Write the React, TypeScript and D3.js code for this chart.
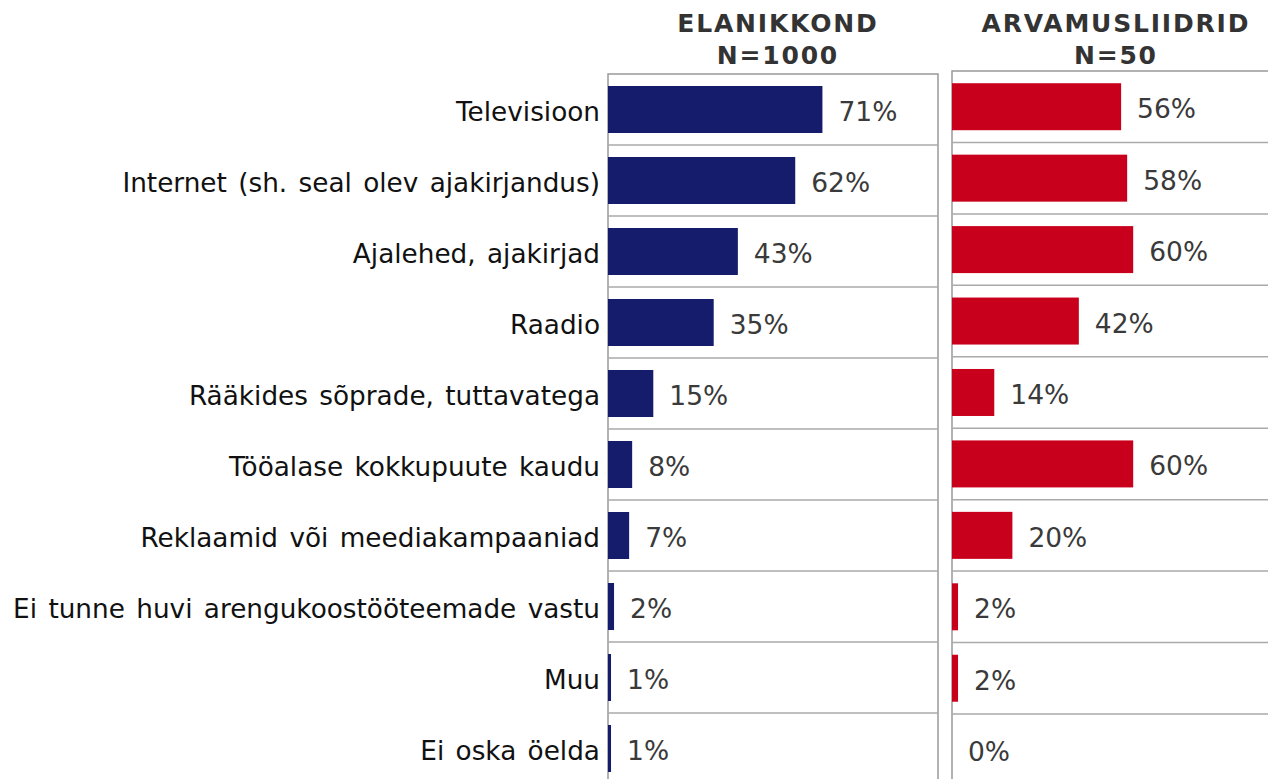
import React from "react";
import * as d3 from "d3";

const categories = [
  "Televisioon",
  "Internet (sh. seal olev ajakirjandus)",
  "Ajalehed, ajakirjad",
  "Raadio",
  "Rääkides sõprade, tuttavatega",
  "Tööalase kokkupuute kaudu",
  "Reklaamid või meediakampaaniad",
  "Ei tunne huvi arengukoostööteemade vastu",
  "Muu",
  "Ei oska öelda",
];
const elanikkond = [71, 62, 43, 35, 15, 8, 7, 2, 1, 1];
const arvamusliidrid = [56, 58, 60, 42, 14, 60, 20, 2, 2, 0];
const panelTitles = [
  ["ELANIKKOND", "N=1000"],
  ["ARVAMUSLIIDRID", "N=50"],
];

const FONT = "'DejaVu Sans', Verdana, sans-serif";

export default function App() {
  const W = 1268;
  const H = 779;
  const x = d3.scaleLinear().domain([0, 100]).range([0, 302]);
  const panels = [
    { left: 608, top: 74, width: 330, rowH: 71.0, data: elanikkond, color: "#151c6b", titles: panelTitles[0], cx: 777 },
    { left: 952, top: 71, width: 330, rowH: 71.44, data: arvamusliidrid, color: "#c8001c", titles: panelTitles[1], cx: 1115 },
  ];
  return (
    <svg width={W} height={H} style={{ position: "absolute", left: 0, top: 0, background: "#fff" }} fontFamily={FONT}>
      {panels.map((p, pi) => {
        const y = d3.scaleBand().domain(categories).range([p.top, p.top + p.rowH * categories.length]).paddingInner(0).paddingOuter(0);
        const barH = 47;
        return (
          <g key={pi}>
            <text x={p.cx + 0.9} y={32} textAnchor="middle" fontSize={25} fontWeight="bold" letterSpacing={1.8} fill="#333">{p.titles[0]}</text>
            <text x={p.cx + 0.9} y={64} textAnchor="middle" fontSize={25} fontWeight="bold" letterSpacing={1.8} fill="#333">{p.titles[1]}</text>
            <rect x={p.left} y={p.top} width={p.width} height={p.rowH * categories.length} fill="#fff" stroke="#999" strokeWidth={1.5} />
            {categories.slice(1).map((c) => (
              <line key={c} x1={p.left} x2={p.left + p.width} y1={y(c)!} y2={y(c)!} stroke="#aaa" strokeWidth={1.5} />
            ))}
            {categories.map((c, i) => {
              const yc = y(c)! + y.bandwidth() / 2;
              const w = x(p.data[i]);
              return (
                <g key={c}>
                  {p.data[i] > 0 && (
                    <rect x={p.left} y={yc - barH / 2} width={w} height={barH} fill={p.color} />
                  )}
                  <text x={p.left + w + 16} y={yc + 11.5} fontSize={26.5} fill="#3a3a3a">{`${p.data[i]}%`}</text>
                </g>
              );
            })}
            {pi === 0 &&
              categories.map((c) => (
                <text key={c} x={600} y={y(c)! + y.bandwidth() / 2 + 11.5} textAnchor="end" fontSize={26.3} wordSpacing={3} fill="#111">{c}</text>
              ))}
          </g>
        );
      })}
    </svg>
  );
}
